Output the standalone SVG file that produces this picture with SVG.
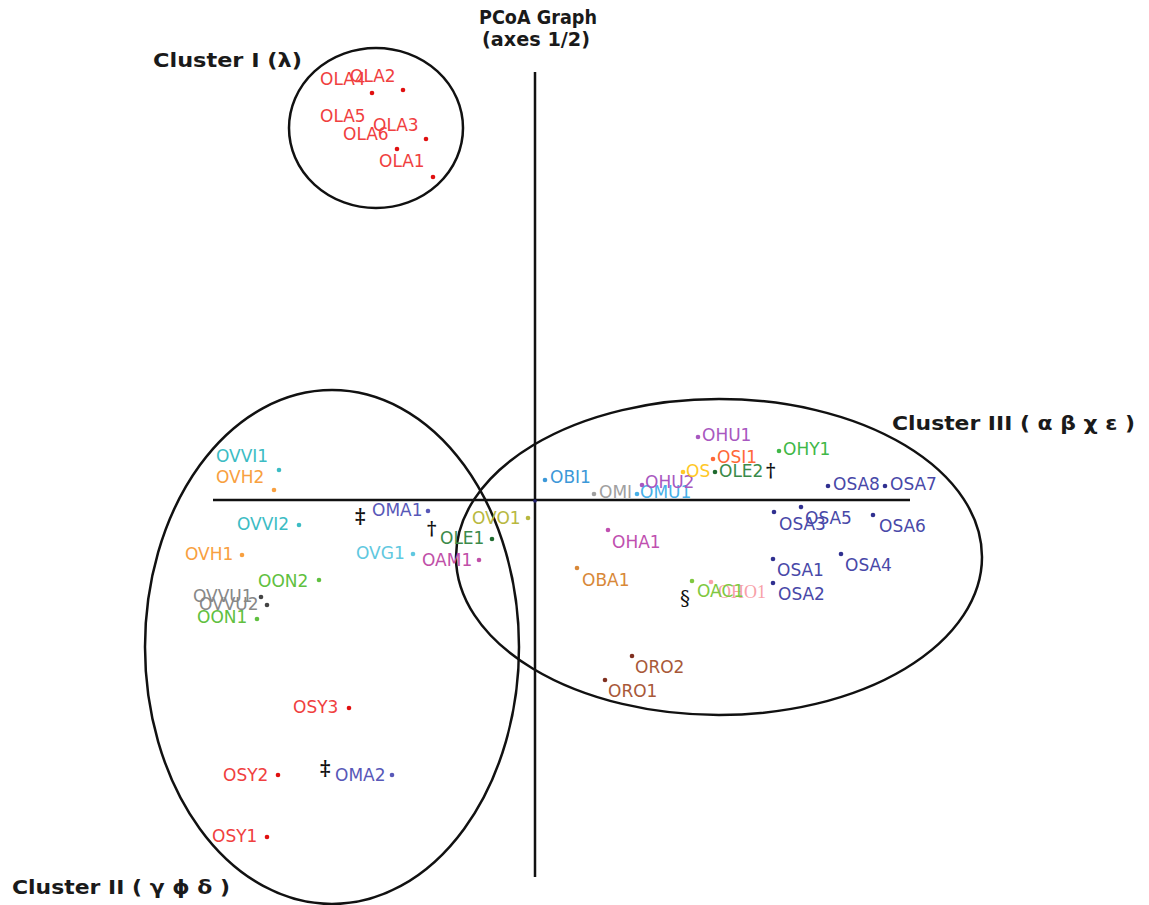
<svg xmlns="http://www.w3.org/2000/svg" width="1149" height="905" viewBox="0 0 1149 905">
<style>
.t{font-family:"DejaVu Sans","Liberation Sans",sans-serif;font-size:17px}
.h{font-family:"DejaVu Sans","Liberation Sans",sans-serif;font-size:20px;font-weight:bold;fill:#1a1a1a}
.ax{stroke:#111;stroke-width:2.5;fill:none}
.cl{stroke:#111;stroke-width:2.5;fill:none}
.m{font-family:"DejaVu Serif","Liberation Serif",serif;font-size:20px;font-weight:bold;fill:#111}
.red{fill:#f04040}.rd{fill:#e01010}
.teal{fill:#3cbcc4}.org{fill:#f8a040}.grn{fill:#60c040}.gry{fill:#888}.gd{fill:#444}
.oma{fill:#5858b8}.ole{fill:#3a8a4a}.oled{fill:#1f6a2f}.ovg{fill:#60c8e0}.oam{fill:#c050a8}
.ovo{fill:#b8b840}.obi{fill:#3c98d8}.omi{fill:#a0a0a0}.omu{fill:#48b0e8}.ohu{fill:#a858c0}
.osi{fill:#ff6838}.osy{fill:#ffc828}.ohy{fill:#40b848}.osa{fill:#4848a8}.osad{fill:#303090}
.oha{fill:#c050b0}.oba{fill:#d88838}.oac{fill:#80c840}.pnk{fill:#f8a0a8}.oro{fill:#a85838}.orod{fill:#803020}
circle{r:2.3px}
</style>
<rect width="1149" height="905" fill="#fff"/>
<g id="connectors">
<line class="ax" x1="535" y1="72" x2="535" y2="877"/>
<line class="ax" x1="213" y1="500" x2="910" y2="500"/>
<ellipse class="cl" cx="376" cy="128" rx="87" ry="80"/>
<ellipse class="cl" cx="332" cy="647" rx="187" ry="257"/>
<ellipse class="cl" cx="719" cy="557" rx="263" ry="158"/>
<circle cx="535" cy="501" r="1.8" fill="#202070" style="r:1.8px"/>
</g>
<g id="titles">
<text class="h" x="479" y="24" textLength="118" lengthAdjust="spacingAndGlyphs">PCoA Graph</text>
<text class="h" x="482" y="46" textLength="108" lengthAdjust="spacingAndGlyphs">(axes 1/2)</text>
<text class="h" x="153" y="67" textLength="149" lengthAdjust="spacingAndGlyphs">Cluster I (λ)</text>
<text class="h" x="12" y="894" textLength="218" lengthAdjust="spacingAndGlyphs">Cluster II  ( γ ϕ δ )</text>
<text class="h" x="892" y="430" textLength="243" lengthAdjust="spacingAndGlyphs">Cluster III ( α β χ  ε )</text>
</g>
<g id="OLA4"><circle class="rd" cx="372" cy="93" r="2"/><text class="t red" x="320" y="85">OLA4</text></g>
<g id="OLA2"><circle class="rd" cx="403" cy="90" r="2"/><text class="t red" x="350" y="82">OLA2</text></g>
<g id="OLA5"><text class="t red" x="320" y="122">OLA5</text></g>
<g id="OLA3"><circle class="rd" cx="426" cy="139" r="2"/><text class="t red" x="373" y="131">OLA3</text></g>
<g id="OLA6"><circle class="rd" cx="397" cy="149" r="2"/><text class="t red" x="343" y="140">OLA6</text></g>
<g id="OLA1"><circle class="rd" cx="433" cy="177" r="2"/><text class="t red" x="379" y="167">OLA1</text></g>
<g id="OVVI1"><circle class="teal" cx="279" cy="470" r="2"/><text class="t teal" x="216" y="462">OVVI1</text></g>
<g id="OVH2"><circle class="org" cx="274" cy="490" r="2"/><text class="t org" x="216" y="483">OVH2</text></g>
<g id="OVVI2"><circle class="teal" cx="299" cy="525" r="2"/><text class="t teal" x="237" y="530">OVVI2</text></g>
<g id="OVH1"><circle class="org" cx="242" cy="555" r="2"/><text class="t org" x="185" y="560">OVH1</text></g>
<g id="OON2"><circle class="grn" cx="319" cy="580" r="2"/><text class="t grn" x="258" y="587">OON2</text></g>
<g id="OVVU1"><circle class="gd" cx="261" cy="597" r="1.8"/><text class="t gry" x="193" y="602">OVVU1</text></g>
<g id="OVVU2"><circle class="gd" cx="267" cy="605" r="1.8"/><text class="t gry" x="199" y="610">OVVU2</text></g>
<g id="OON1"><circle class="grn" cx="257" cy="619" r="2"/><text class="t grn" x="197" y="623">OON1</text></g>
<g id="OMA1"><circle class="oma" cx="428" cy="511" r="2"/><text class="m" x="355" y="523">‡</text><text class="t oma" x="372" y="516">OMA1</text></g>
<g id="OLE1"><circle class="oled" cx="492" cy="539" r="2"/><text class="m" x="427" y="535" style="font-size:18px">†</text><text class="t ole" x="440" y="544">OLE1</text></g>
<g id="OVG1"><circle class="ovg" cx="413" cy="554" r="2"/><text class="t ovg" x="356" y="559">OVG1</text></g>
<g id="OAM1"><circle class="oam" cx="479" cy="560" r="2"/><text class="t oam" x="422" y="566">OAM1</text></g>
<g id="OVO1"><circle class="ovo" cx="528" cy="518" r="2"/><text class="t ovo" x="472" y="524">OVO1</text></g>
<g id="OBI1"><circle class="obi" cx="545" cy="480" r="2"/><text class="t obi" x="550" y="483">OBI1</text></g>
<g id="OMI"><circle class="omi" cx="594" cy="494" r="2"/><text class="t omi" x="599" y="498">OMI</text></g>
<g id="OMU1"><circle class="omu" cx="637" cy="494" r="2"/><text class="t omu" x="640" y="498">OMU1</text></g>
<g id="OHU2"><circle class="ohu" cx="642" cy="485" r="2"/><text class="t ohu" x="645" y="488">OHU2</text></g>
<g id="OHU1"><circle class="ohu" cx="698" cy="437" r="2"/><text class="t ohu" x="702" y="441">OHU1</text></g>
<g id="OSI1"><circle class="osi" cx="713" cy="459" r="2"/><text class="t osi" x="717" y="463">OSI1</text></g>
<g id="OS"><circle class="osy" cx="683" cy="472" r="2"/><text class="t osy" x="686" y="477">OS</text></g>
<g id="OLE2"><circle class="oled" cx="715" cy="472" r="2"/><text class="t ole" x="719" y="477">OLE2</text><text class="m" x="766" y="477" style="font-size:18px">†</text></g>
<g id="OHY1"><circle class="ohy" cx="779" cy="451" r="2"/><text class="t ohy" x="783" y="455">OHY1</text></g>
<g id="OSA8"><circle class="osad" cx="828" cy="486" r="2"/><text class="t osa" x="833" y="490">OSA8</text></g>
<g id="OSA7"><circle class="osad" cx="885" cy="486" r="2"/><text class="t osa" x="890" y="490">OSA7</text></g>
<g id="OSA3"><circle class="osad" cx="774" cy="512" r="2"/><text class="t osa" x="779" y="530">OSA3</text></g>
<g id="OSA5"><circle class="osad" cx="801" cy="507" r="2"/><text class="t osa" x="805" y="524">OSA5</text></g>
<g id="OSA6"><circle class="osad" cx="873" cy="515" r="2"/><text class="t osa" x="879" y="532">OSA6</text></g>
<g id="OSA1"><circle class="osad" cx="773" cy="559" r="2"/><text class="t osa" x="777" y="576">OSA1</text></g>
<g id="OSA4"><circle class="osad" cx="841" cy="554" r="2"/><text class="t osa" x="845" y="571">OSA4</text></g>
<g id="OSA2"><circle class="osad" cx="773" cy="583" r="2"/><text class="t osa" x="778" y="600">OSA2</text></g>
<g id="OHA1"><circle class="oha" cx="608" cy="530" r="2"/><text class="t oha" x="612" y="548">OHA1</text></g>
<g id="OBA1"><circle class="oba" cx="577" cy="568" r="2"/><text class="t oba" x="582" y="586">OBA1</text></g>
<g id="OHO1"><circle class="pnk" cx="711" cy="582" r="2"/><text class="pnk" x="718" y="598" style="font-family:'Liberation Serif',serif;font-size:18px">OHO1</text></g>
<g id="OAC1"><circle class="oac" cx="692" cy="581" r="2"/><text class="m" x="680" y="605" style="font-weight:normal">§</text><text class="t oac" x="697" y="597">OAC1</text></g>
<g id="ORO2"><circle class="orod" cx="632" cy="656" r="2"/><text class="t oro" x="635" y="673">ORO2</text></g>
<g id="ORO1"><circle class="orod" cx="605" cy="680" r="2"/><text class="t oro" x="608" y="697">ORO1</text></g>
<g id="OSY3"><circle class="rd" cx="349" cy="708" r="2"/><text class="t red" x="293" y="713">OSY3</text></g>
<g id="OSY2"><circle class="rd" cx="278" cy="775" r="2"/><text class="t red" x="223" y="781">OSY2</text></g>
<g id="OMA2"><circle class="oma" cx="392" cy="775" r="2"/><text class="m" x="320" y="775">‡</text><text class="t oma" x="335" y="781">OMA2</text></g>
<g id="OSY1"><circle class="rd" cx="267" cy="837" r="2"/><text class="t red" x="212" y="842">OSY1</text></g>
</svg>
